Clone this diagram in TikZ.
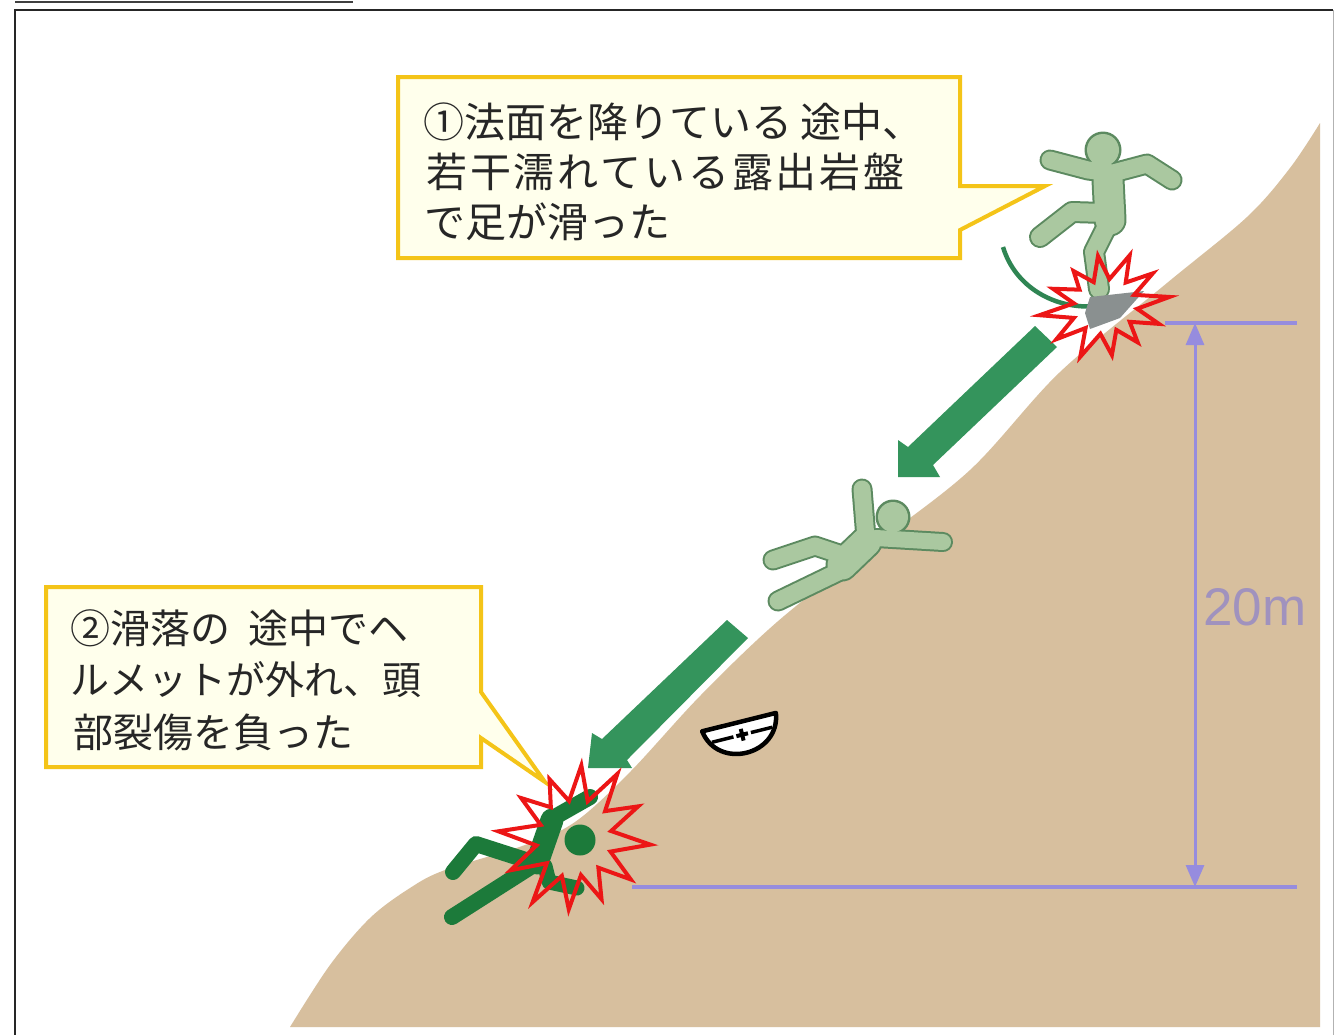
\documentclass[tikz,border=0pt]{standalone}
\usepackage{fontspec}
\newfontfamily\jpfont{Noto Sans CJK JP}
\newfontfamily\jpwide[LetterSpace=7]{Noto Sans CJK JP}
\newfontfamily\labfont{Liberation Sans}
\usetikzlibrary{arrows.meta}
\definecolor{slopebrown}{RGB}{215,191,158}
\definecolor{dimcol}{RGB}{150,140,222}
\definecolor{dimtext}{RGB}{160,146,190}
\definecolor{calloutedge}{RGB}{244,196,24}
\definecolor{calloutfill}{RGB}{255,255,236}
\definecolor{arrowgreen}{RGB}{52,148,92}
\definecolor{figfill}{RGB}{170,200,160}
\definecolor{figedge}{RGB}{92,138,96}
\definecolor{figdark}{RGB}{28,122,58}
\definecolor{burstred}{RGB}{236,22,22}
\definecolor{rockgray}{RGB}{138,144,144}

\tikzset{
  callout/.style={draw=calloutedge, fill=calloutfill, line width=4pt, line join=miter},
  cltext/.style={anchor=west, inner sep=0pt, text=black!85},
  dimline/.style={draw=dimcol, line width=3.5pt},
  bigarrow/.style={fill=arrowgreen},
  limbedge/.style={draw=figedge, line width=#1, line cap=round, line join=round},
  limbfill/.style={draw=figfill, line width=#1, line cap=round, line join=round},
  limbdark/.style={draw=figdark, line width=#1, line cap=round, line join=round},
  burstline/.style={draw=burstred, line width=4pt, line join=miter},
  pics/burst/.style={code={
    \draw[burstline] (0:62) -- (15:31) -- (30:56) -- (45:30) -- (60:52) -- (75:29)
      -- (90:55) -- (105:31) -- (120:60) -- (135:30) -- (150:58) -- (165:32)
      -- (180:63) -- (195:30) -- (210:54) -- (225:31) -- (240:50) -- (255:29)
      -- (270:56) -- (285:30) -- (300:60) -- (315:32) -- (330:57) -- (345:30) -- cycle;
  }}
}

\begin{document}
\begin{tikzpicture}[x=1pt,y=-1pt]
\useasboundingbox (0,0) rectangle (1335,1034);
\fill[white] (0,0) rectangle (1335,1034);

% heading rule and frame
\draw[line width=2.5pt, black!75] (15,2) -- (353,2);
\draw[line width=1.5pt, black!85] (15,1040) -- (15,10) -- (1333,10);
\draw[line width=1pt, black!30] (1333,10) -- (1333,1040);

% slope
\fill[slopebrown] plot[smooth, tension=0.55] coordinates {
  (290,1027) (330,965) (370,918) (410,888) (445,870) (525,845) (575,822)
  (630,772) (700,696) (777,622) (870,548) (970,470) (1060,372) (1167,283)
  (1247,217) (1290,168) (1320,123)} -- (1320,1027) -- cycle;

% height dimension
\coordinate (dimT) at (1195,323);
\coordinate (dimB) at (1195,887);
\draw[dimline] (1165,323) -- (1297,323);
\draw[dimline] (632,887) -- (1297,887);
\draw[dimline, line width=3pt, {Triangle[width=18pt,length=22pt]}-{Triangle[width=18pt,length=22pt]}] (dimT) -- (dimB);
\node[font=\labfont\fontsize{53}{53}\selectfont, text=dimtext, inner sep=0pt] (height) at (1255,607) {20m};

% callouts
\draw[callout] (398,77) -- (960,77) -- (960,186) -- (1045,186) -- (960,230) -- (960,258) -- (398,258) -- cycle;
\node[cltext, font=\jpfont\fontsize{41}{41}\selectfont] (c1a) at (423,122) {①法面を降りている\hspace{8pt}途中、};
\node[cltext, font=\jpwide\fontsize{41}{41}\selectfont] (c1b) at (426,172) {若干濡れている露出岩盤};
\node[cltext, font=\jpfont\fontsize{41}{41}\selectfont] (c1c) at (424,222) {で足が滑った};

\draw[callout] (46,587) -- (481,587) -- (481,692) -- (545,782) -- (481,738) -- (481,767) -- (46,767) -- cycle;
\node[cltext, font=\jpfont\fontsize{40}{40}\selectfont] (c2a) at (70,628) {②滑落の\hspace{18pt}途中でヘ};
\node[cltext, font=\jpfont\fontsize{39}{39}\selectfont] (c2b) at (70,680) {ルメットが外れ、頭};
\node[cltext, font=\jpfont\fontsize{40}{40}\selectfont] (c2c) at (73,732) {部裂傷を負った};

% sliding direction arrows
\fill[bigarrow] (1035,326) -- (1057,347) -- (933,465) -- (940,477) -- (898,477) -- (898,440) -- (908,447) -- cycle;
\fill[bigarrow] (727,620) -- (748,638) -- (627,760) -- (632,768) -- (588,768) -- (592,733) -- (602,739) -- cycle;

% figure 1: slipping on the wet rock
\fill[figedge] (1103,150) circle (18.5);
\draw[limbedge=21pt] (1050,160) -- (1088,170) -- (1113,173) -- (1147,164) -- (1172,180);
\draw[limbedge=33pt] (1108,180) -- (1110,220);
\draw[limbedge=22pt] (1105,213) -- (1072,212) -- (1040,237);
\draw[limbedge=22pt] (1110,220) -- (1094,252) -- (1099,289);
\fill[figfill] (1103,150) circle (16);
\draw[limbfill=17pt] (1050,160) -- (1088,170) -- (1113,173) -- (1147,164) -- (1172,180);
\draw[limbfill=29pt] (1108,180) -- (1110,220);
\draw[limbfill=18pt] (1105,213) -- (1072,212) -- (1040,237);
\draw[limbfill=18pt] (1110,220) -- (1094,252) -- (1099,289);
\draw[draw=arrowgreen!90!black, line width=4.5pt] (1003,247) .. controls (1015,287) and (1055,310) .. (1097,306);
\fill[rockgray] (1090,297) -- (1144,291) -- (1120,318) -- (1090,329) -- (1085,313) -- cycle;
\pic[rotate=8, xscale=1.05, yscale=0.9] at (1105,306) {burst};

% figure 2: sliding down the slope
\fill[figedge] (893,517) circle (17.5);
\draw[limbedge=21pt] (862,489) -- (866,538);
\draw[limbedge=20pt] (876,538) -- (943,542);
\draw[limbedge=33pt] (866,542) -- (842,565);
\draw[limbedge=21pt] (845,556) -- (815,546) -- (773,560);
\draw[limbedge=21pt] (838,572) -- (778,601);
\fill[figfill] (893,517) circle (15);
\draw[limbfill=17pt] (862,489) -- (866,538);
\draw[limbfill=16pt] (876,538) -- (943,542);
\draw[limbfill=29pt] (866,542) -- (842,565);
\draw[limbfill=17pt] (845,556) -- (815,546) -- (773,560);
\draw[limbfill=17pt] (838,572) -- (778,601);

% helmet lost on the way down
\begin{scope}[shift={(740,726)}, rotate=14]
  \draw[fill=white, line width=4.5pt, line join=round] (-38,-4) .. controls (-32,38) and (32,38) .. (38,-4) -- cycle;
  \draw[line width=3.5pt] (-31,9) -- (-9,9) (9,9) -- (31,9);
  \draw[line width=4pt] (-6,9) -- (6,9) (0,3) -- (0,15);
\end{scope}

% figure 3: fallen at the foot of the slope
\fill[figdark] (580,840) circle (15.5);
\draw[limbdark=16pt] (553,818) -- (590,797);
\draw[limbdark=23pt] (552,820) -- (537,863);
\draw[limbdark=15pt] (545,866) -- (549,882) -- (577,888);
\draw[limbdark=16pt] (532,862) -- (476,844) -- (453,872);
\draw[limbdark=16pt] (532,866) -- (452,917);
\pic[rotate=-5, xscale=1.22, yscale=1.3] at (575,838) {burst};

\end{tikzpicture}
\end{document}
